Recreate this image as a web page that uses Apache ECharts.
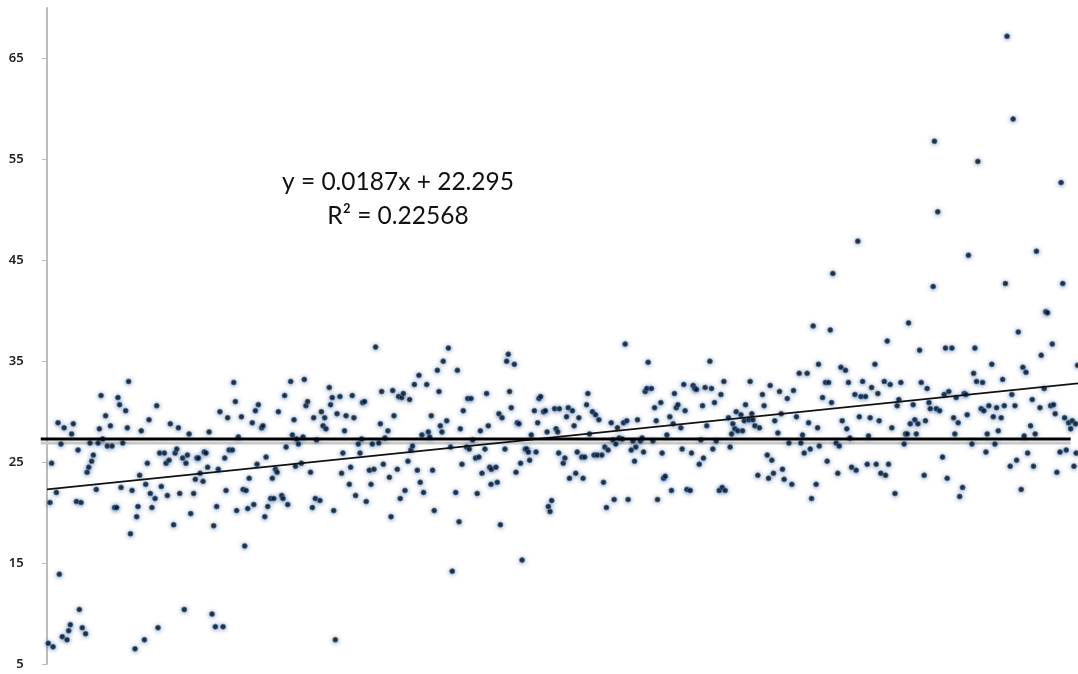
<!DOCTYPE html>
<html>
<head>
<meta charset="utf-8">
<style>html,body{margin:0;padding:0;background:#fff}#c{width:1078px;height:674px}</style>
<script src="https://cdn.jsdelivr.net/npm/echarts@6/dist/echarts.min.js"></script>
</head>
<body>
<div id="c"></div>
<script>
const tickLabels = [5, 15, 25, 35, 45, 55, 65];
const equationLines = ['y = 0.0187x + 22.295', 'R² = 0.22568'];
const trendX = [0, 561];
const trendY = [22.295, 32.8];
const meanX = [-3.4, 557];
const meanY = [27.3, 27.3];
const shadowY = [26.9, 26.9];

const pointsA = [[0.7,7.05],[3.3,6.7],[2.5,24.9],[1.6,21],[5.1,22],[6,28.9],[7.6,26.8],[9.3,28.4],[13.4,27.8],[14.3,28.8],[6.7,13.9],[8.3,7.7],[10.9,7.4],[11.8,8.3],[12.7,8.9],[17.6,10.4],[19.2,8.6],[21,8],[16.9,26.2],[16,21.1],[18.5,21],[21.8,24],[22.7,24.5],[24.3,25.1],[25.2,25.7],[23.4,26.9],[26.8,22.3],[27.8,26.9],[28.5,28.3],[29.4,31.6],[30.3,27.3],[31.9,29.6],[32.8,26.6],[34.5,28.6],[35.4,26.6],[38.6,31.4],[39.5,30.7],[42.8,30.1],[41.2,26.9],[43.7,28.4],[44.4,33],[36.8,20.5],[37.9,20.5],[40.3,22.5],[46.3,22.2],[45.4,17.9],[47.9,6.5],[53,7.4],[60.4,8.6],[48.8,19.6],[49.5,20.6],[50.4,23.7],[51.3,28.1],[53.7,22.8],[54.6,24.9],[55.5,29.2],[56.2,21.9],[57.1,20.5],[58.8,21.4],[59.7,30.6],[61.3,25.9],[62.2,22.6],[63.9,25.9],[64.8,24.9],[65.5,21.7],[66.4,25.2],[67.1,28.8],[68.9,18.8],[69.7,25.9],[70.6,26.3],[71.5,28.4],[72.2,21.9],[73.8,25.4],[74.7,10.4],[75.6,24.9],[76.4,25.7],[77.3,27.8],[78.2,19.9],[79.8,21.9],[80.7,23.3],[81.6,25.4],[82.4,25.4],[83.3,23.9],[84.9,23.1],[85.6,26],[86.5,25.9],[87.4,24.5],[88.2,28],[89.8,9.95],[90.7,18.7],[91.6,8.7],[92.3,20.6],[93.2,24.3],[94.1,30],[95.8,8.7],[96.7,25.4],[97.4,22.2],[98.3,29.4],[99.1,26.2],[100.9,26.2],[101.6,32.9],[102.5,31],[103.2,20.2],[104.1,27.5],[105.8,29.5],[106.7,22.3],[107.6,16.7],[108.3,22.2],[109.2,20.4],[110,23.4],[111.7,28.9],[112.5,20.8],[113.4,30.1],[114.3,24.8],[115,30.7],[116.8,28.4],[117.5,28.6],[118.5,19.6],[119.2,25.5],[120.1,20.6],[121.7,21.4],[123.4,21.4],[122.6,23.4],[124.3,24.3],[125.2,24],[125.9,30],[127.7,21.7],[128.4,21.4],[129.3,31.6],[130.1,26.5],[131,20.8],[132.6,33],[133.5,27.7],[134.4,29.2],[135.2,24.6],[136.8,26.8]];

const pointsB = [[135.8,27.3],[139.3,27.5],[138.4,24.9],[140,33.2],[140.9,30.6],[141.8,31],[143.4,24],[144.4,20.5],[145.1,29.4],[146,21.4],[146.7,27.2],[148.5,21.2],[149.3,30],[150.2,28.6],[151.1,29.4],[151.8,28.3],[153.6,32.4],[154.3,30.7],[155.2,31.4],[156,20.2],[156.9,7.4],[157.8,29.8],[159.4,31.5],[160.3,23.9],[161,25.9],[161.9,28.1],[162.7,29.6],[164.5,22.8],[165.2,24.5],[166.1,31.6],[167,29.4],[167.9,21.7],[169.4,26.8],[170.3,25.9],[171.2,27.3],[171.7,30.9],[172.8,31],[173.7,21.1],[175.4,24.2],[176.3,22.8],[177,26.8],[177.9,24.3],[178.8,36.4],[180.5,26.9],[181.4,28.8],[182.1,32],[183,24.8],[183.9,27.4],[185.5,28.1],[186.3,23.5],[187.2,19.6],[188.1,32.1],[188.8,29.6],[190.6,24.3],[191.3,31.5],[192.2,21.4],[193,31.4],[193.9,31.8],[194.8,22.2],[196.4,25.1],[197.3,31.2],[198,26.2],[198.9,26.6],[199.9,32.7],[201.5,24.2],[202.4,33.6],[203.1,23],[204,27.7],[204.9,22],[206.6,32.7],[207.5,28],[208.2,27.5],[209.1,29.6],[209.8,24.2],[210.7,20.2],[212.4,34.1],[213.3,32],[214,28.6],[214.9,28],[215.6,35],[217.5,29.1],[218.4,36.3],[219.6,26.5],[220.5,14.2],[222.4,22],[223.3,34.1],[224.2,19.1],[224.9,28.3],[225.8,24.8],[226.5,30.1],[228.3,26.5],[228.9,31.3],[229.8,26.3],[230.7,31.3],[231.6,27.2],[233.2,25.4],[234.1,21.9],[235,25.5],[235.8,28.1],[236.7,23.9],[238.3,26.3],[239.2,31.8],[240.1,28.6],[240.9,24.5],[241.8,24.3],[241.6,22.8],[244.3,24.5],[245,23],[245.9,29.8],[246.7,18.8],[247.6,29.4],[249.2,26.3],[250.1,35],[251,35.7],[251.7,32],[252.6,30.4],[254.3,34.7],[255.2,24],[255.9,28.9],[256.8,28.8],[257.7,24.9],[258.5,15.3],[260.3,26.3],[261,26.3],[261.9,26],[262.6,25.2],[263.5,27.7],[265.2,30.1],[266.1,26],[267,28.9],[267.7,31.3],[268.6,31.5],[270.2,30],[271.2,30.1],[272.1,28],[272.8,20.6],[273.7,20.1],[274.6,21.2],[276.2,30.3],[277,28.3],[277.9,28],[278.4,25.9],[278.8,30.3]];

const pointsC = [[280.9,24.9],[281.8,25.4],[282.7,29.5],[283.6,30.4],[284.3,23.4],[285.9,30.1],[286.8,28.6],[287.7,23.9],[288.5,26],[289.4,29.4],[291,25.5],[291.7,23.4],[292.6,25.5],[293.6,30.7],[294.3,31.8],[295.2,27.8],[296.8,30],[297.7,25.7],[298.5,29.7],[299.4,25.7],[300.3,29.2],[301.9,25.7],[302.8,23],[303.5,26.5],[304.4,20.5],[305.3,26.2],[307,28.9],[307.9,27.2],[308.6,21.3],[309.5,26.8],[310.4,28.4],[311.3,27.4],[313,27.3],[313.7,28.9],[314.6,36.7],[315.5,29.1],[316.2,21.3],[317.9,26.2],[318.8,27.1],[319.7,25.1],[320.4,26.5],[321.3,29.2],[322.9,27.1],[323.8,27.4],[324.6,26],[325.5,32],[326.4,32.3],[327.1,34.9],[328.9,32.3],[329.7,27.1],[330.6,30.4],[331.5,29.1],[332.2,21.3],[334,30.9],[334.7,25.9],[335.5,23.4],[336.4,23.6],[337.3,27.7],[338.9,29.5],[339.8,22.2],[340.7,28.8],[341.4,31.8],[342.4,30.4],[343.3,30.7],[344.9,28.4],[345.6,26.3],[346.5,32.7],[347.2,30.1],[348.2,22.3],[350,22.2],[350.7,25.9],[351.6,32.6],[352.5,32.3],[353.4,32.2],[354.9,24.8],[355.8,27.2],[356.7,30.6],[357.2,25.4],[358.1,32.4],[359,28.6],[360.7,35],[361.6,32.3],[362.3,26.3],[363.2,30.9],[364.1,27.1],[365.8,22.2],[366.7,31.7],[367.4,22.5],[368.3,33],[369,22.2],[370.8,29.4],[371.7,26.5],[372.5,27.8],[373.2,28.8],[374.3,28.3],[375,30],[375.9,28.1],[377.6,29.7],[378.5,28.1],[379.4,29.1],[380.1,30.7],[381.9,29.2],[382.6,33],[383.5,29.8],[384.1,29.2],[385.2,28.6],[386.8,23.7],[387.7,28.4],[389.3,31.7],[390.2,30.6],[391.9,25.7],[392.6,23.4],[393.5,32.6],[394.4,25.2],[395.3,23.9],[396,29.1],[397.7,27.9],[398.6,32],[399.5,29.8],[400.2,24.3],[401.1,23.3],[402.8,31.3],[403.7,26.9],[405.3,22.8],[406.2,32.1],[407.8,29.5],[409.3,33.8],[410.2,26.9],[411.1,27.7],[412,25.9],[413.6,33.8],[414.4,28.9],[415.3,26.3],[416,21.4],[416.9,38.5],[418.5,22.8],[419.3,28.4],[419.8,34.7],[420.2,26.6]];

const pointsD = [[422,31.4],[423.6,32.9],[424.5,25.1],[425.3,32.9],[426.2,38.1],[426.9,30.9],[429.4,26.9],[430.3,23.9],[431.1,26.6],[432,34.4],[432.7,29.1],[434.5,34.1],[435.2,28.3],[436.1,32.9],[436.9,27.4],[437.8,24.5],[439.6,31.7],[440.3,24.2],[442,29.5],[442.9,31.5],[443.8,33],[445.4,31.5],[446.3,24.8],[447,27.6],[447.9,29.4],[448.7,32.4],[450.5,34.7],[451.2,24.8],[452.1,31.8],[452.8,29.1],[453.7,23.9],[455.6,33],[456.3,23.7],[457.2,37],[457.9,24.8],[458.8,32.7],[459.7,28.4],[461.4,21.9],[462.6,30.6],[463.5,31.2],[464.6,32.9],[466.4,26.8],[467.2,27.8],[468.1,27.8],[468.8,38.8],[469.7,28.8],[471.3,30.7],[472.2,29.2],[473,27.8],[473.9,28.8],[474.8,36.1],[475.7,32.9],[477.3,23.7],[478,29.1],[478.9,32.3],[479.9,30.9],[480.6,30.3],[483.9,30.3],[485.7,30.1],[487.3,25.5],[488.2,31.7],[488.9,36.3],[489.8,23.4],[490.7,32],[492.4,36.3],[493.3,29.4],[494,27.8],[494.7,31.4],[495.8,28.9],[496.6,21.6],[498.2,22.5],[499.1,31.8],[500,31.7],[500.7,29.7],[503.3,26.8],[504.2,33.8],[504.9,36.3],[505.8,33],[508.3,30.3],[509.1,32.9],[509.8,30.1],[510.9,26],[511.6,27.8],[512.5,30.6],[514.1,34.7],[514.9,29.5],[515.8,26.8],[516.7,30.4],[517.6,28.1],[519.2,29.4],[520,33.2],[520.9,30.6],[524.1,24.6],[525,31.7],[526.7,30.6],[527.6,25.2],[528.5,37.9],[530.1,22.3],[531,34.4],[531.7,27.6],[532.7,33.9],[533.6,25.9],[535.2,28.6],[536.1,31.2],[536.8,24.6],[537.7,27.8],[540.3,30.4],[541,35.6],[542.6,32.3],[543.5,39.9],[544.4,39.8],[546.1,30.6],[547,36.7],[547.7,30.7],[548.6,29.8],[549.5,24],[551.2,26],[553.7,29.4],[554.6,26.2],[555.9,28.9],[557,28.3],[557.9,29.1],[558.8,24.6],[559.7,28.8],[560,25.9],[560.8,34.6]];

const pointsE = [[522.4,67.2],[525.7,59],[482.9,56.8],[506.5,54.8],[551.8,52.7],[484.7,49.8],[441.2,46.9],[501.4,45.5],[538.4,45.9],[427.6,43.7],[482.2,42.4],[521.5,42.7],[552.7,42.7]];

const points = [...pointsA, ...pointsB, ...pointsC, ...pointsD, ...pointsE];
const zip = (xs, ys) => xs.map((x, i) => [x, ys[i]]);

const chart = echarts.init(document.getElementById('c'), null, { renderer: 'canvas' });
chart.setOption({
  animation: false,
  backgroundColor: '#ffffff',
  grid: { left: 40.7, right: 0, top: 8, bottom: 10 },
  xAxis: { type: 'value', min: -3.43, max: 561, show: false },
  yAxis: {
    type: 'value', min: 5, max: 70,
    axisLine: { show: true, onZero: true, lineStyle: { color: '#bcbcbc', width: 2 } },
    axisTick: { show: true, length: 5, customValues: tickLabels, lineStyle: { color: '#bcbcbc', width: 1 } },
    axisLabel: { customValues: tickLabels, margin: 17, padding: [3, 0, 0, 0], fontFamily: 'Noto Sans', fontSize: 13, fontWeight: 600, color: '#222' },
    splitLine: { show: false }
  },
  graphic: equationLines.map((line, i) => ({
    type: 'text', x: 398, y: 182 + i * 34, z: 10,
    style: { text: line, font: '24.5px Lato', fill: '#111', textAlign: 'center', textVerticalAlign: 'middle' }
  })),
  series: [
    { type: 'line', data: zip(meanX, shadowY), symbol: 'none', clip: false, silent: true, z: 1,
      lineStyle: { color: '#c8c8c8', width: 3 } },
    { type: 'scatter', data: points, symbol: 'circle', symbolSize: 5, z: 2, clip: false,
      itemStyle: { color: '#000000', borderColor: 'rgba(55,110,170,0.9)', borderWidth: 1,
        shadowBlur: 4, shadowColor: 'rgba(40,85,140,0.7)', shadowOffsetY: 0.5 } },
    { type: 'line', data: zip(trendX, trendY), symbol: 'none', clip: false, silent: true, z: 3,
      lineStyle: { color: '#111', width: 1.7 } },
    { type: 'line', data: zip(meanX, meanY), symbol: 'none', clip: false, silent: true, z: 4,
      lineStyle: { color: '#000', width: 3 } }
  ]
});
</script>
</body>
</html>
